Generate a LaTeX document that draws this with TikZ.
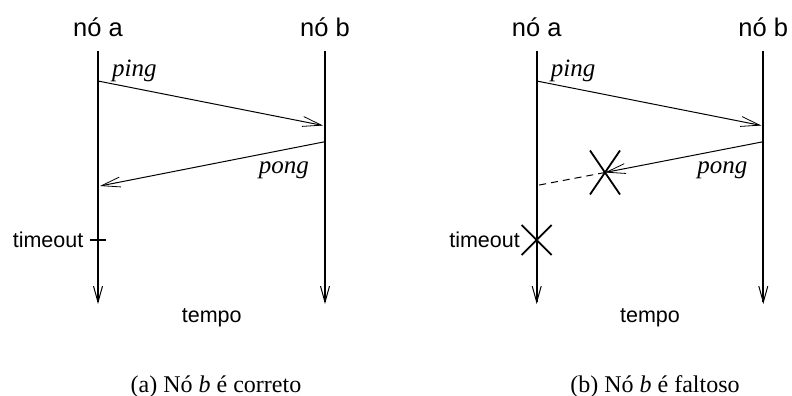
\documentclass[tikz,border=0pt]{standalone}
\usepackage{fontspec}
\setmainfont{Liberation Serif}
\setsansfont{Liberation Sans}
\usetikzlibrary{arrows.meta}

\begin{document}
\begin{tikzpicture}[x=1pt, y=-1pt,
    lifeline/.style={-{Straight Barb[length=16pt, width=9pt, line width=1pt]}, line width=2pt},
    msg/.style={-{Straight Barb[length=19pt, width=10pt, line width=0.8pt]}, line width=1pt},
    lost/.style={dashed, line width=1pt, dash pattern=on 7pt off 5pt},
    cross/.style={line width=1.8pt},
    tick/.style={line width=2pt},
    proc/.style={font=\sffamily\fontsize{25.5}{30}\selectfont, anchor=base, inner sep=0pt},
    small/.style={font=\sffamily\fontsize{21.5}{25}\selectfont, inner sep=0pt},
    msglabel/.style={font=\itshape\fontsize{25}{29}\selectfont, inner sep=0pt},
    caption/.style={font=\fontsize{24}{28}\selectfont, anchor=base, inner sep=0pt},
]
\useasboundingbox (0,0) rectangle (792,396);

\node[proc] (aL) at (98,36.5) {nó a};
\node[proc] (bL) at (325,36.5) {nó b};
\coordinate (aLtop) at (98,51);
\coordinate (aLbot) at (98,304);
\coordinate (bLtop) at (325,51);
\coordinate (bLbot) at (325,304);
\draw[lifeline] (aLtop) -- (aLbot);
\draw[lifeline] (bLtop) -- (bLbot);

\coordinate (pingLs) at (98,81);
\coordinate (pingLe) at (323,125.5);
\coordinate (pongLs) at (325,141.7);
\coordinate (pongLe) at (100,186);
\draw[msg] (pingLs) -- (pingLe);
\draw[msg] (pongLs) -- (pongLe);
\node[msglabel, anchor=base west] (pingL) at (112,76) {ping};
\node[msglabel, anchor=base east] (pongL) at (309,173) {pong};

\coordinate (toL) at (98,240);
\draw[tick] ([xshift=-8pt]toL) -- ([xshift=8pt]toL);
\node[small, anchor=base east] (timeoutL) at (83.5,247) {timeout};
\node[small, anchor=base] (tempoL) at (211.7,322.7) {tempo};
\node[caption] (capL) at (216,392) {(a) Nó \textit{b} é correto};

\node[proc] (aR) at (536.7,36.5) {nó a};
\node[proc] (bR) at (763.3,36.5) {nó b};
\coordinate (aRtop) at (536.7,51);
\coordinate (aRbot) at (536.7,304);
\coordinate (bRtop) at (763.3,51);
\coordinate (bRbot) at (763.3,304);
\draw[lifeline] (aRtop) -- (aRbot);
\draw[lifeline] (bRtop) -- (bRbot);

\coordinate (pingRs) at (536.7,81);
\coordinate (pingRe) at (761.3,125.5);
\coordinate (pongRs) at (763.3,141.7);
\coordinate (lossR) at (605,172.5);
\coordinate (pongRe) at (536.7,185.5);
\draw[msg] (pingRs) -- (pingRe);
\draw[msg] (pongRs) -- (lossR);
\draw[lost] (lossR) -- (pongRe);
\draw[cross] ([shift={(-15,-22)}]lossR) -- ([shift={(15,22)}]lossR);
\draw[cross] ([shift={(15,-22)}]lossR) -- ([shift={(-15,22)}]lossR);
\node[msglabel, anchor=base west] (pingR) at (550.7,76) {ping};
\node[msglabel, anchor=base east] (pongR) at (747.5,173) {pong};

\coordinate (toR) at (536.7,240);
\draw[cross] ([shift={(-15,-15)}]toR) -- ([shift={(15,15)}]toR);
\draw[cross] ([shift={(15,-15)}]toR) -- ([shift={(-15,15)}]toR);
\node[small, anchor=base east] (timeoutR) at (520,247) {timeout};
\node[small, anchor=base] (tempoR) at (650,322.7) {tempo};
\node[caption] (capR) at (655,392) {(b) Nó \textit{b} é faltoso};
\end{tikzpicture}
\end{document}
